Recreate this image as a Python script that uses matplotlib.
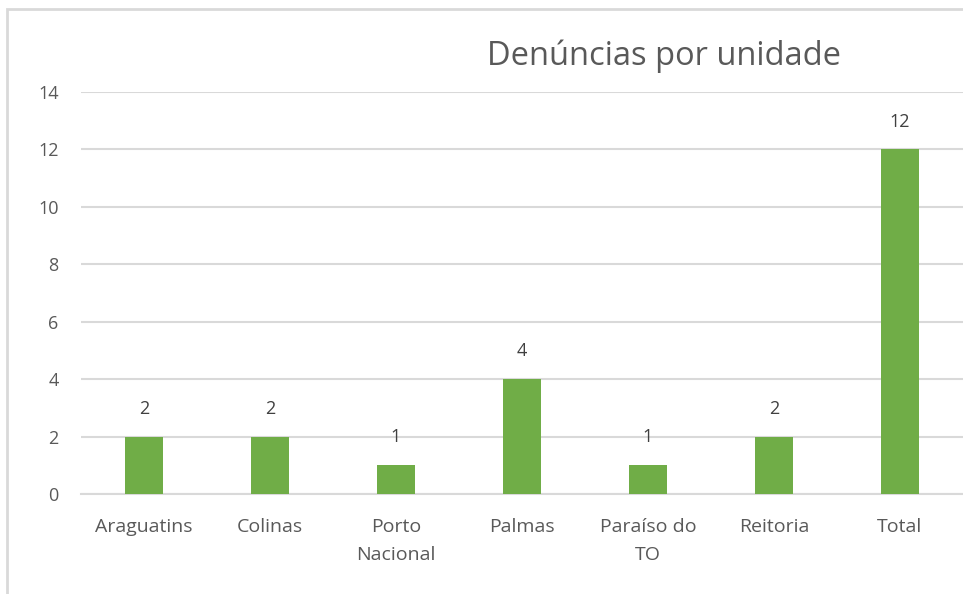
import matplotlib.pyplot as plt
from matplotlib.patches import Rectangle

# Data
unidades = ["Araguatins", "Colinas", "Porto\nNacional", "Palmas", "Paraíso do\nTO", "Reitoria", "Total"]
denuncias = [2, 2, 1, 4, 1, 2, 12]
yticks = [0, 2, 4, 6, 8, 10, 12, 14]

green = "#70AD47"
text_gray = "#595959"
grid_gray = "#D9D9D9"

plt.rcParams["font.family"] = ["Open Sans", "DejaVu Sans"]

fig = plt.figure(figsize=(9.63, 5.94), dpi=100)
ax = fig.add_axes([0.084, 0.1684, 0.916, 0.6768])

x = range(len(unidades))
ax.bar(x, denuncias, width=0.30, color=green, zorder=3)

for xi, v in zip(x, denuncias):
    ax.annotate(str(v), (xi, v), xytext=(0, 20), textcoords="offset points",
                ha="center", va="center", fontsize=13, color="#404040")

ax.set_xlim(-0.5, len(unidades) - 0.5)
ax.set_ylim(0, 14)
ax.set_yticks(yticks)
ax.set_xticks(list(x))
ax.set_xticklabels(unidades, fontsize=14, color=text_gray, linespacing=1.75)
ax.tick_params(axis="y", labelsize=13, labelcolor=text_gray, length=0, pad=16)
ax.tick_params(axis="x", length=0, pad=17)

ax.grid(axis="y", color=grid_gray, linewidth=1.5, zorder=0)
for s in ["top", "right", "left"]:
    ax.spines[s].set_visible(False)
ax.spines["bottom"].set_color(grid_gray)
ax.spines["bottom"].set_linewidth(1.5)

fig.text(0.69, 0.905, "Denúncias por unidade", fontsize=23.5, color=text_gray,
         ha="center", va="center")

# chart frame (only top/left edge visible in the crop)
fig.patches.append(Rectangle((7 / 963, -0.1), 1.2, 1 - 9 / 594 + 0.1,
                             transform=fig.transFigure, fill=False,
                             edgecolor=grid_gray, linewidth=2))

fig.savefig("out.png", dpi=100)
